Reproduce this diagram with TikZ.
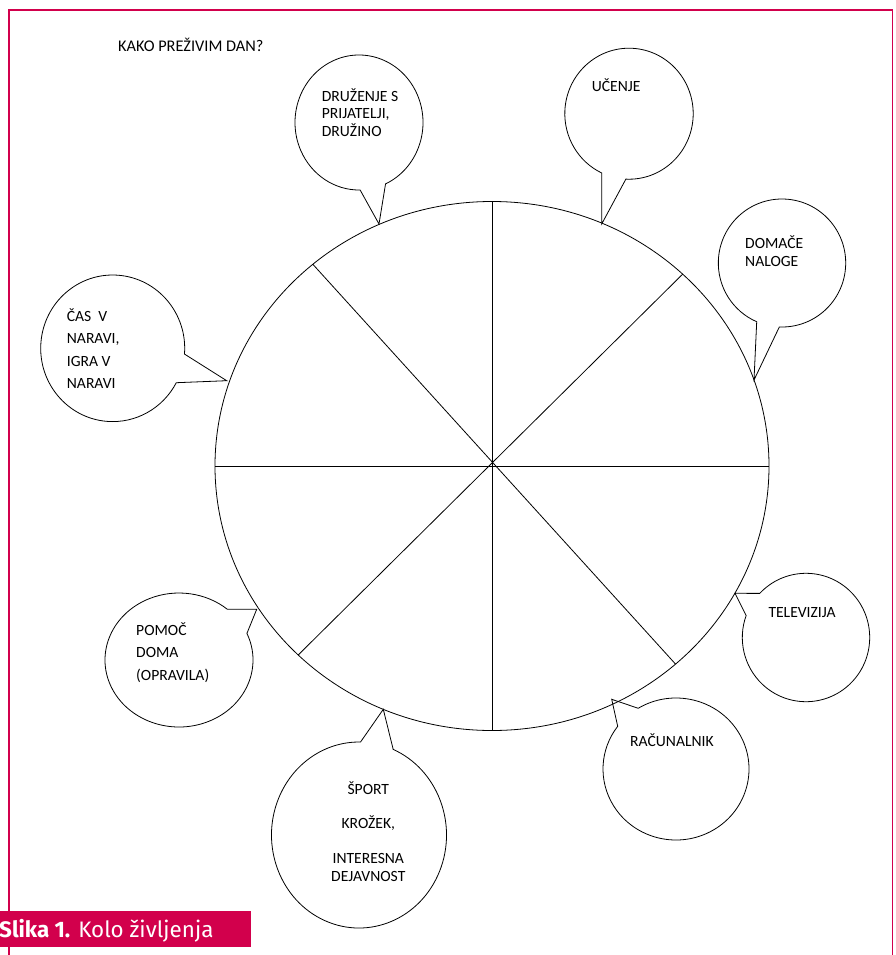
\documentclass[tikz,border=0pt]{standalone}
\usepackage{fontspec}
\setmainfont{Carlito}
\newfontfamily\capfont{Fira Sans}
\usetikzlibrary{calc}
\definecolor{crim}{RGB}{210,0,76}
\begin{document}
\begin{tikzpicture}[x=1pt,y=-1pt,
  txt/.style={anchor=base west, inner sep=0pt, font=\fontsize{15.6}{18}\selectfont},
  ctxt/.style={anchor=base, inner sep=0pt, font=\fontsize{15.6}{18}\selectfont},
  bubble/.style={draw=black, fill=white, line width=0.8pt, line join=miter},
  wheelline/.style={draw=black, line width=0.8pt},
  frameline/.style={draw=crim, line width=1.5pt}]
\useasboundingbox (0,0) rectangle (895,955);
\fill[white] (0,0) rectangle (895,955);
% frame
\draw[frameline] (9,955) -- (9,10) -- (892.5,10) -- (892.5,955);
% title
\node[txt, font=\fontsize{16.3}{18}\selectfont] (title) at (118,52) {KAKO PREŽIVIM DAN?};
% bubble centres and tips
\coordinate (c1) at (359,122.5);  \coordinate (t1) at (379,224);
\coordinate (c2) at (629,113.7);  \coordinate (t2) at (601.7,224);
\coordinate (c3) at (782,263);    \coordinate (t3) at (754,380);
\coordinate (c4) at (112.7,348.3);\coordinate (t4) at (226.7,380.7);
\coordinate (c5) at (179,660);    \coordinate (t5) at (256.7,609.3);
\coordinate (c6) at (359,835);    \coordinate (t6) at (383.3,709.3);
\coordinate (c7) at (676,769);    \coordinate (t7) at (611.7,699.3);
\coordinate (c8) at (806,637.5);  \coordinate (t8) at (735,593.3);
% bubbles
\draw[bubble] (t1) -- ($(c1)+(65.5:64 and 67.5)$) arc[start angle=65.5, end angle=-271, x radius=64, y radius=67.5] -- cycle;
\draw[bubble] (t2) -- ($(c2)+(92.8:64.2 and 65.5)$) arc[start angle=92.8, end angle=-244.8, x radius=64.2, y radius=65.5] -- cycle;
\draw[bubble] (t3) -- ($(c3)+(92.4:63.7 and 64)$) arc[start angle=92.4, end angle=-246.6, x radius=63.7, y radius=64] -- cycle;
\draw[bubble] (t4) -- ($(c4)+(4.5:72 and 73.3)$) arc[start angle=4.5, end angle=-332, x radius=72, y radius=73.3] -- cycle;
\draw[bubble] (t5) -- ($(c5)+(-23.4:74 and 67)$) arc[start angle=-23.4, end angle=310.7, x radius=74, y radius=67] -- cycle;
\draw[bubble] (t6) -- ($(c6)+(-67:87.5 and 93)$) arc[start angle=-67, end angle=271, x radius=87.5, y radius=93] -- cycle;
\draw[bubble] (t7) -- ($(c7)+(-121.2:73 and 71)$) arc[start angle=-121.2, end angle=217, x radius=73, y radius=71] -- cycle;
\draw[bubble] (t8) -- ($(c8)+(-136.6:63.7 and 64.2)$) arc[start angle=-136.6, end angle=200, x radius=63.7, y radius=64.2] -- cycle;
% wheel
\coordinate (c) at (492,466);
\coordinate (wE)  at ($(c)+(0:277 and 264.5)$);
\coordinate (wSE) at ($(c)+(48.5:277 and 264.5)$);
\coordinate (wS)  at ($(c)+(90:277 and 264.5)$);
\coordinate (wSW) at ($(c)+(134.4:277 and 264.5)$);
\coordinate (wW)  at ($(c)+(180:277 and 264.5)$);
\coordinate (wNW) at ($(c)+(229.7:277 and 264.5)$);
\coordinate (wN)  at ($(c)+(270:277 and 264.5)$);
\coordinate (wNE) at ($(c)+(313.5:277 and 264.5)$);
\draw[wheelline] (c) ellipse [x radius=277, y radius=264.5];
\draw[wheelline] (wN) -- (wS);
\draw[wheelline] (wW) -- (wE);
\draw[wheelline] (wNW) -- (wSE);
\draw[wheelline] (wNE) -- (wSW);
% texts
\node[txt] (d1) at (321.7,102) {DRUŽENJE S};
\node[txt] (d2) at (321.7,119) {PRIJATELJI,};
\node[txt] (d3) at (321.7,136.5) {DRUŽINO};
\node[txt] (u1) at (591.7,91.7) {UČENJE};
\node[txt] (n1) at (745,248.3) {DOMAČE};
\node[txt] (n2) at (745,266.7) {NALOGE};
\node[txt] (v1) at (66.7,321.7) {ČAS~~V};
\node[txt] (v2) at (66.7,343.7) {NARAVI,};
\node[txt] (v3) at (66.7,366.3) {IGRA V};
\node[txt] (v4) at (66.7,388.3) {NARAVI};
\node[txt] (p1) at (136,635) {POMOČ};
\node[txt] (p2) at (136,657.7) {DOMA};
\node[txt] (p3) at (136,680.7) {(OPRAVILA)};
\node[ctxt] (s1) at (368.3,794.3) {ŠPORT};
\node[ctxt] (s2) at (368.3,828.3) {KROŽEK,};
\node[ctxt] (s3) at (368.3,863.3) {INTERESNA};
\node[ctxt] (s4) at (368.3,881) {DEJAVNOST};
\node[txt] (r1) at (630,746.7) {RAČUNALNIK};
\node[txt] (e1) at (768.3,617.7) {TELEVIZIJA};
% caption
\fill[crim] (0,911) rectangle (250.7,946.7);
\node[anchor=base west, inner sep=0pt, text=white, font=\capfont\fontsize{22.4}{26}\selectfont] (cap) at (-1,937) {\textbf{Slika 1.} Kolo življenja};
\end{tikzpicture}
\end{document}
